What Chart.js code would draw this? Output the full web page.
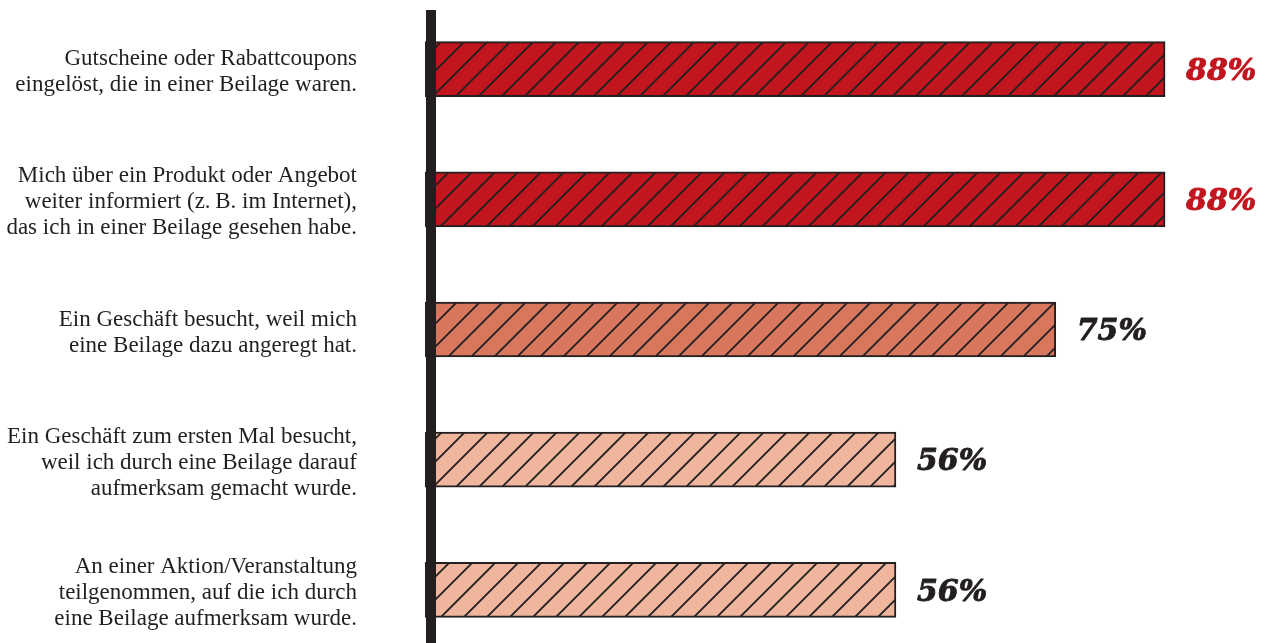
<!DOCTYPE html>
<html>
<head>
<meta charset="utf-8">
<script src="https://cdn.jsdelivr.net/npm/chart.js@4"></script>
<style>
  html, body { margin: 0; padding: 0; background: #ffffff; overflow: hidden; }
  canvas { display: block; }
</style>
</head>
<body>
<canvas id="chart" width="1270" height="655"></canvas>
<script>
// Survey statements (each entry is a multi-line label)
const categories = [
  ["Gutscheine oder Rabattcoupons", "eingelöst, die in einer Beilage waren."],
  ["Mich über ein Produkt oder Angebot", "weiter informiert (z.\u2009B. im Internet),", "das ich in einer Beilage gesehen habe."],
  ["Ein Geschäft besucht, weil mich", "eine Beilage dazu angeregt hat."],
  ["Ein Geschäft zum ersten Mal besucht,", "weil ich durch eine Beilage darauf", "aufmerksam gemacht wurde."],
  ["An einer Aktion/Veranstaltung", "teilgenommen, auf die ich durch", "eine Beilage aufmerksam wurde."]
];
// Share of respondents in percent
const values = [88, 88, 75, 56, 56];
const valueLabels = ["88%", "88%", "75%", "56%", "56%"];
const barColors = ["#c1161e", "#c1161e", "#d8765e", "#efb59d", "#efb59d"];
const labelColors = ["#c1161e", "#c1161e", "#231f20", "#231f20", "#231f20"];

const INK = "#231f20";

// Diagonal hatch pattern over a solid fill
function hatch(color) {
  const s = 23;
  const c = document.createElement("canvas");
  c.width = s; c.height = s;
  const g = c.getContext("2d");
  g.fillStyle = color;
  g.fillRect(0, 0, s, s);
  g.strokeStyle = INK;
  g.lineWidth = 1.8;
  g.beginPath();
  g.moveTo(-2, s + 2); g.lineTo(s + 2, -2);
  g.moveTo(-2, 2); g.lineTo(2, -2);
  g.moveTo(s - 2, s + 2); g.lineTo(s + 2, s - 2);
  g.stroke();
  return document.getElementById("chart").getContext("2d").createPattern(c, "repeat");
}

// Thick vertical baseline and the value labels beside each bar
const decorations = {
  id: "decorations",
  afterDatasetsDraw(chart) {
    const ctx = chart.ctx;
    const meta = chart.getDatasetMeta(0);
    ctx.save();
    ctx.fillStyle = INK;
    ctx.fillRect(chart.chartArea.left + 1, 10, 10, chart.height - 10);
    ctx.font = "bold italic 30px 'DejaVu Serif'";
    ctx.textBaseline = "middle";
    ctx.textAlign = "left";
    ctx.lineWidth = 0.9;
    ctx.lineJoin = "round";
    meta.data.forEach((bar, i) => {
      ctx.fillStyle = labelColors[i];
      ctx.strokeStyle = labelColors[i];
      ctx.fillText(valueLabels[i], bar.x + 21, bar.y + 3);
      ctx.strokeText(valueLabels[i], bar.x + 21, bar.y + 3);
    });
    ctx.restore();
  }
};

new Chart(document.getElementById("chart"), {
  type: "bar",
  data: {
    labels: categories,
    datasets: [{
      data: values,
      backgroundColor: barColors.map(hatch),
      borderColor: INK,
      borderWidth: 2,
      borderSkipped: false,
      barThickness: 55
    }]
  },
  options: {
    indexAxis: "y",
    responsive: false,
    animation: false,
    layout: { padding: { top: 4, right: 4, bottom: 0, left: 0 } },
    plugins: { legend: { display: false }, tooltip: { enabled: false } },
    scales: {
      x: { display: false, min: 0, max: 100 },
      y: {
        grid: { display: false, drawTicks: false },
        border: { display: false },
        afterFit(scale) {
          scale.width = 425;
          scale.paddingTop = 0;
          scale.paddingBottom = 0;
        },
        ticks: {
          color: INK,
          padding: 68,
          labelOffset: 3,
          font: { family: "'Liberation Serif'", size: 23, lineHeight: 1.13 }
        }
      }
    }
  },
  plugins: [decorations]
});
</script>
</body>
</html>
